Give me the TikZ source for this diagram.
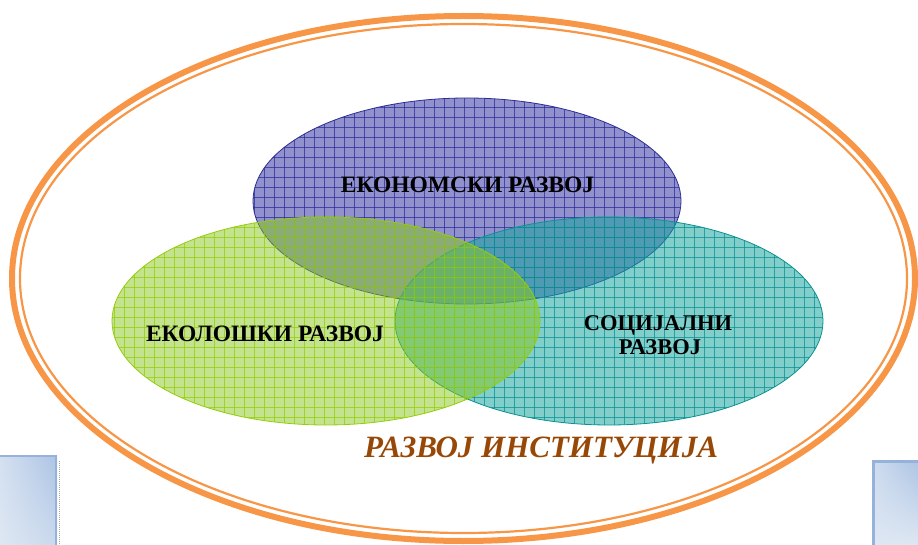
\documentclass[tikz,border=0pt]{standalone}
\usepackage{fontspec}
\setmainfont{Liberation Serif}
\usetikzlibrary{shadings}
\definecolor{ringorange}{RGB}{247,150,70}
\definecolor{instbrown}{RGB}{152,72,6}
\definecolor{blueFill}{RGB}{55,55,165}
\definecolor{blueLine}{RGB}{45,45,150}
\definecolor{greenFill}{RGB}{135,200,30}
\definecolor{greenLine}{RGB}{150,205,10}
\definecolor{tealFill}{RGB}{25,165,160}
\definecolor{tealLine}{RGB}{10,145,145}
\definecolor{boxDark}{RGB}{172,196,228}
\definecolor{boxLight}{RGB}{222,231,243}
\definecolor{boxEdge}{RGB}{150,178,218}
\tikzset{
  lbl/.style={font=\bfseries\fontsize{23.5}{26}\selectfont, inner sep=0pt, anchor=base, text=black},
  gridline/.style={line width=0.6pt, opacity=0.75},
}
\begin{document}
\begin{tikzpicture}[x=1pt,y=-1pt]
\useasboundingbox (0,0) rectangle (918,545);
% side boxes
\shade[upper right=boxDark, upper left=boxLight!80!boxDark, lower left=boxLight, lower right=boxLight!60!boxDark] (0,455) rectangle (57,545);
\draw[boxEdge, line width=2pt] (0,456) -- (56,456) -- (56,545);
\draw[gray!70, dash pattern=on 1pt off 1pt, line width=1pt] (59,461) -- (59,545);
\shade[upper right=boxDark, upper left=boxLight!70!boxDark, lower left=boxLight, lower right=boxLight] (872,460) rectangle (918,545);
\draw[boxEdge, line width=3pt] (873.5,545) -- (873.5,461.5) -- (918,461.5);
% outer double ring
\draw[ringorange, line width=6pt] (463.5,278.5) ellipse [x radius=451.5, y radius=262.5];
\draw[ringorange, line width=2.2pt] (463.5,278.5) ellipse [x radius=443.5, y radius=254.5];
% blue ellipse
\begin{scope}
\clip (467,201) ellipse [x radius=214, y radius=103];
\fill[blueFill, opacity=0.55] (250,95) rectangle (690,310);
\foreach \x in {254,264,...,684} \draw[blueLine, gridline] (\x,95) -- (\x,310);
\foreach \y in {97,107,...,307} \draw[blueLine, gridline] (250,\y) -- (690,\y);
\end{scope}
\draw[blueLine, line width=0.8pt] (467,201) ellipse [x radius=214, y radius=103];
% teal ellipse
\begin{scope}
\clip (609,321) ellipse [x radius=214, y radius=104];
\fill[tealFill, opacity=0.55] (390,210) rectangle (830,430);
\foreach \x in {394,404,...,824} \draw[tealLine, gridline] (\x,210) -- (\x,430);
\foreach \y in {217,227,...,427} \draw[tealLine, gridline] (390,\y) -- (830,\y);
\end{scope}
\draw[tealLine, line width=0.8pt] (609,321) ellipse [x radius=214, y radius=104];
% green ellipse
\begin{scope}
\clip (326,321) ellipse [x radius=214, y radius=104];
\fill[greenFill, opacity=0.5] (105,210) rectangle (545,430);
\foreach \x in {114,124,...,544} \draw[greenLine, gridline] (\x,210) -- (\x,430);
\foreach \y in {217,227,...,427} \draw[greenLine, gridline] (105,\y) -- (545,\y);
\end{scope}
\draw[greenLine, line width=0.8pt] (326,321) ellipse [x radius=214, y radius=104];
% labels
\node[lbl] (eko) at (467.5,193) {ЕКОНОМСКИ РАЗВОЈ};
\node[lbl] (eco) at (265,341.5) {ЕКОЛОШКИ РАЗВОЈ};
\node[lbl, font=\bfseries\fontsize{22.5}{25}\selectfont] (soc1) at (658,330) {СОЦИЈАЛНИ};
\node[lbl, font=\bfseries\fontsize{22.5}{25}\selectfont] (soc2) at (660,354) {РАЗВОЈ};
\node[inner sep=0pt, anchor=base, text=instbrown, font=\bfseries\itshape\fontsize{31}{34}\selectfont] (inst) at (541,457) {РАЗВОЈ ИНСТИТУЦИЈА};
\end{tikzpicture}
\end{document}
